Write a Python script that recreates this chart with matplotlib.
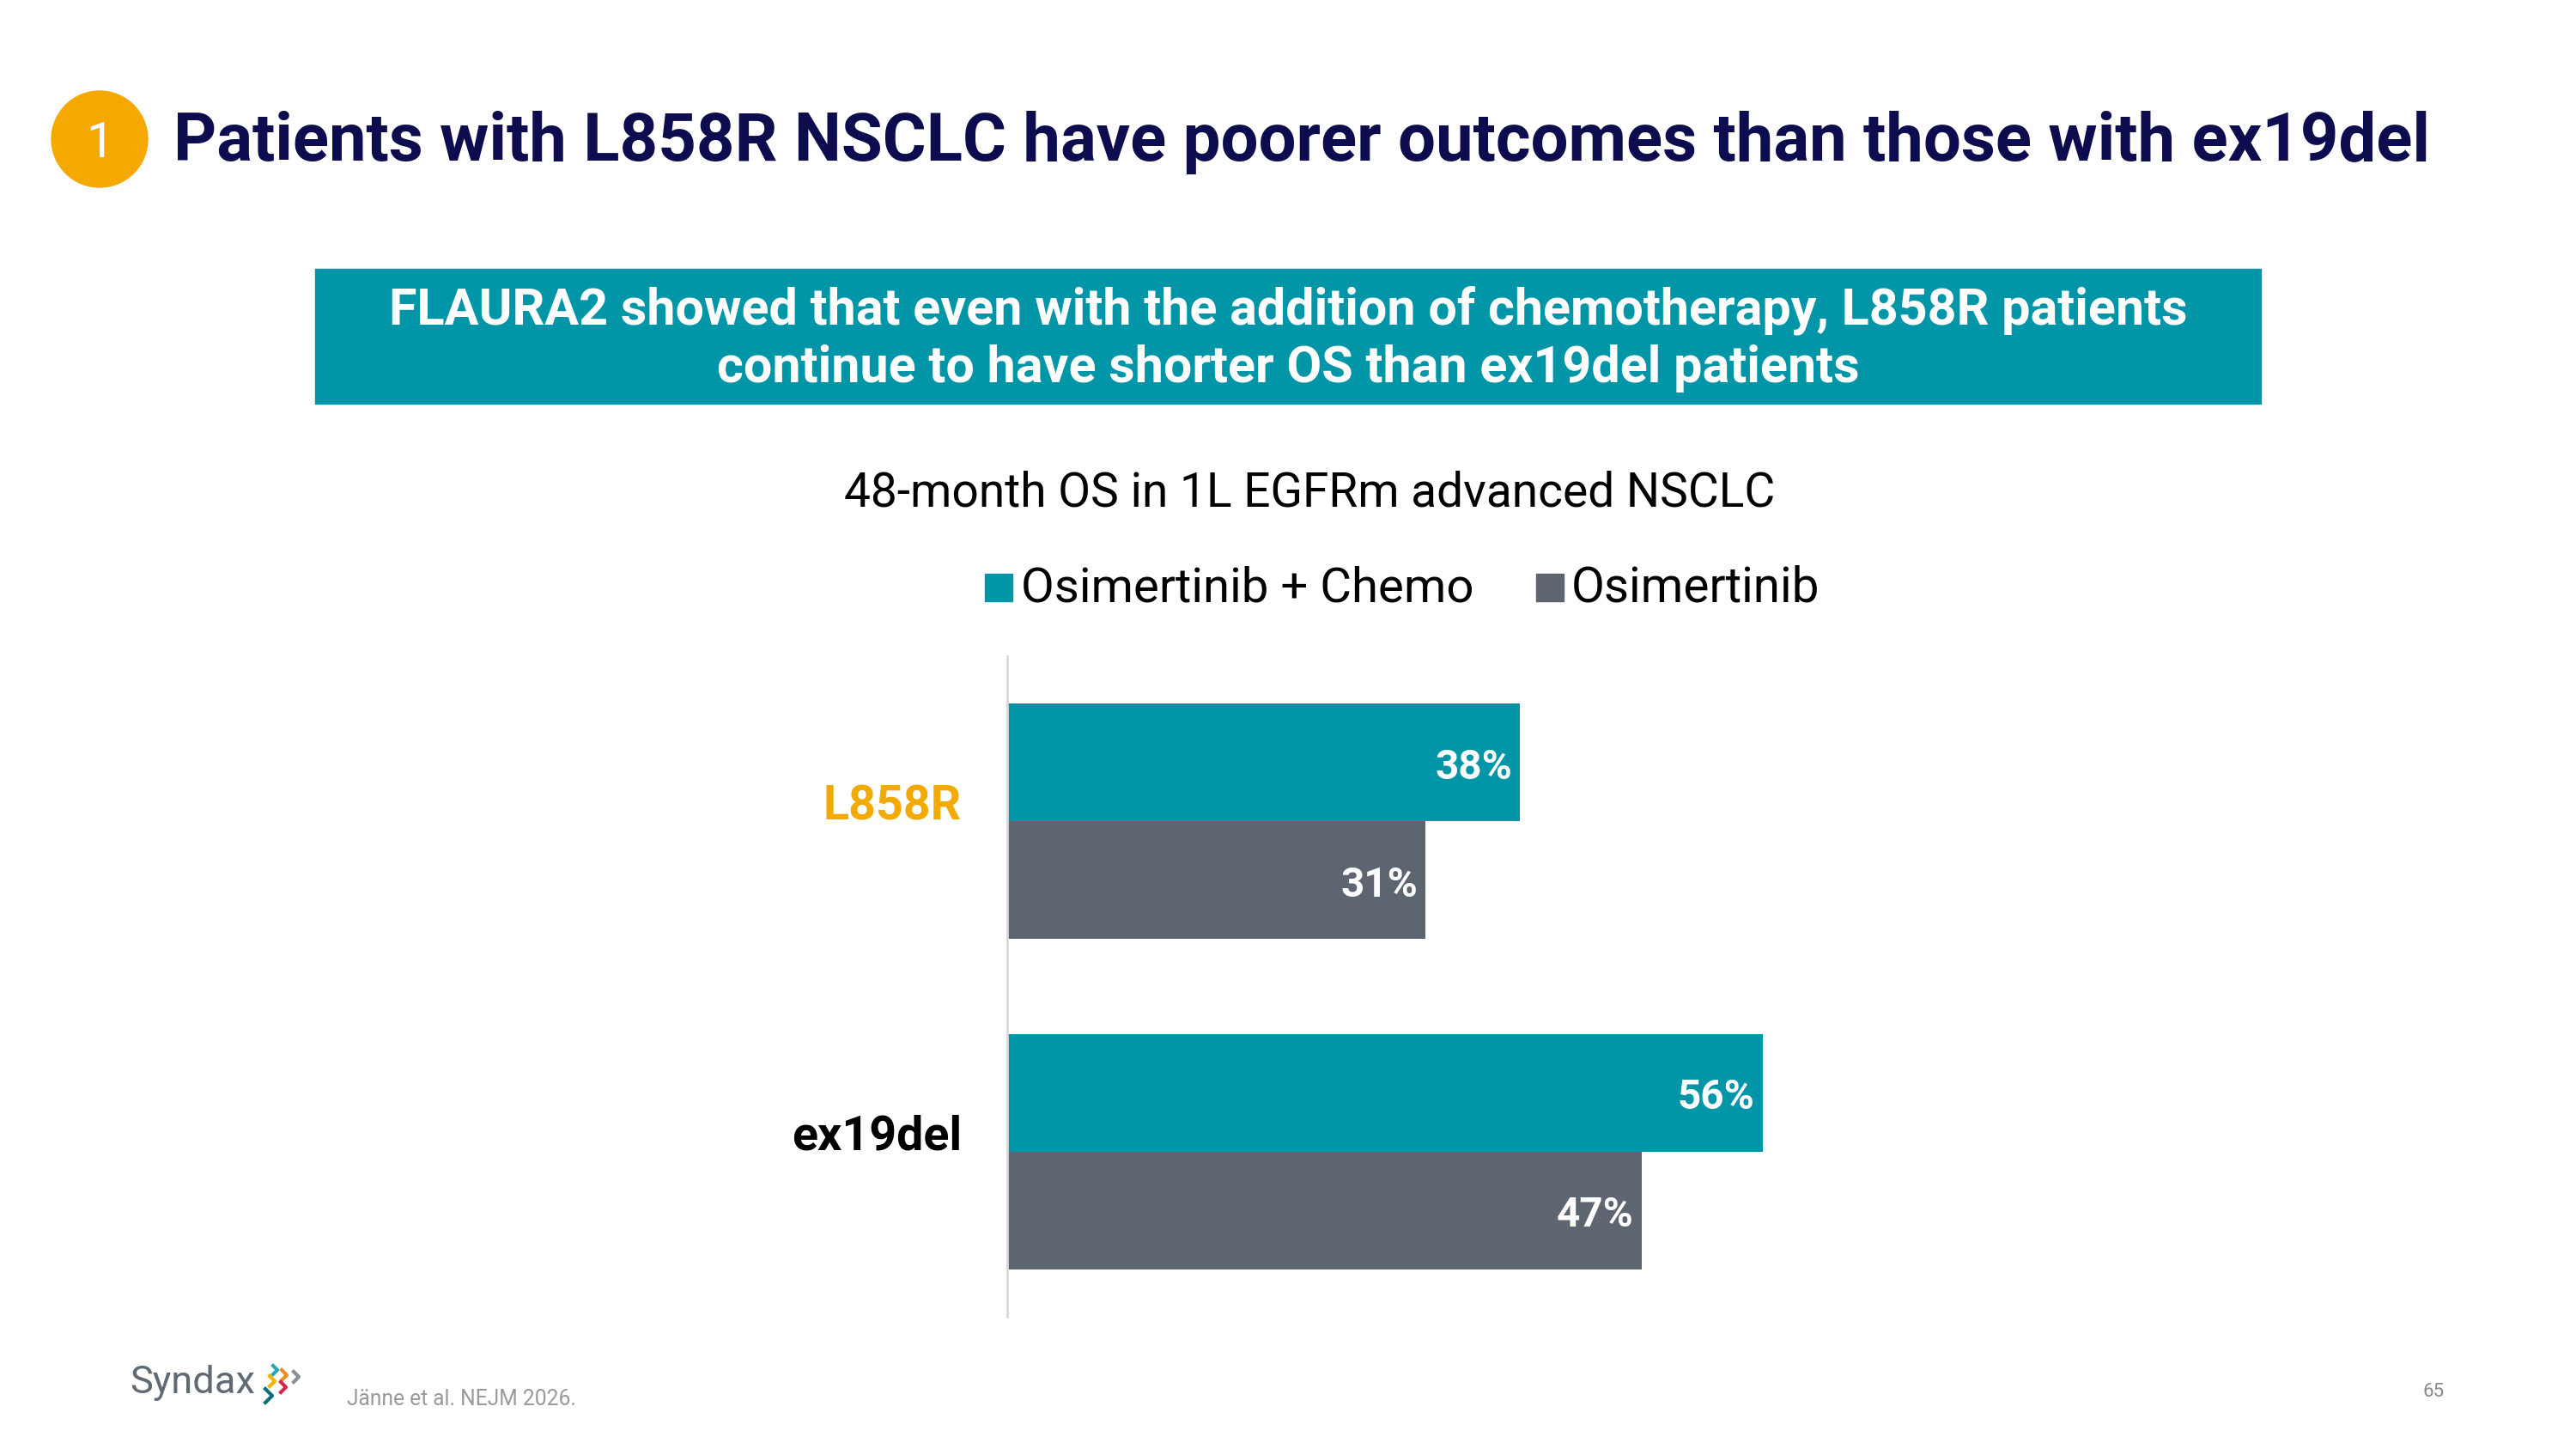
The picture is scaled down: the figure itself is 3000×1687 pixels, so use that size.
import numpy as np
import matplotlib.pyplot as plt
from matplotlib.patches import Circle, Rectangle
from matplotlib.lines import Line2D

# données
categories = ['L858R', 'ex19del']
chemo = [38, 56]   # Osimertinib + Chemo
osim = [31, 47]    # Osimertinib
series_names = ['Osimertinib + Chemo', 'Osimertinib']

TEAL = '#0096a8'
GREY = '#5d6670'
ORANGE = '#f2a900'
NAVY = '#0c0c4e'

W, H = 3000, 1687
plt.rcParams['font.family'] = ['Roboto', 'DejaVu Sans']

fig = plt.figure(figsize=(W / 100, H / 100), dpi=100)
renderer = fig.canvas.get_renderer()


def fx(x):
    return x / W


def fy(y):
    return 1 - y / H


def fit(t, width):
    # ajuste la taille de police pour une largeur donnee en pixels
    w = t.get_window_extent(renderer).width
    t.set_fontsize(t.get_fontsize() * width / w)
    return t


# pastille + titre
badge = Circle((116 / 100, (H - 162) / 100), 0.56, transform=fig.dpi_scale_trans,
               color='#f5a800')
fig.patches.append(badge)
fig.text(fx(116), fy(183), '1', color='white', fontsize=41, ha='center', va='baseline')
t = fig.text(fx(202), fy(187), 'Patients with L858R NSCLC have poorer outcomes than those with ex19del',
             color=NAVY, fontsize=50, fontweight='bold', ha='left', va='baseline')
fit(t, 2628)

# encadre
fig.patches.append(Rectangle((fx(367), fy(470)), fx(2633) - fx(367), fy(313) - fy(470),
                             transform=fig.transFigure, color=TEAL))
t1 = fig.text(fx(1500), fy(377), 'FLAURA2 showed that even with the addition of chemotherapy, L858R patients',
              color='white', fontsize=40, fontweight='bold', ha='center', va='baseline')
fit(t1, 2095)
fig.text(fx(1500), fy(445), 'continue to have shorter OS than ex19del patients',
         color='white', fontsize=t1.get_fontsize(), fontweight='bold', ha='center', va='baseline')

# titre du graphique
t = fig.text(fx(1525), fy(590), '48-month OS in 1L EGFRm advanced NSCLC',
             color='black', fontsize=36, ha='center', va='baseline')
fit(t, 1085)

# legende
for xs, xt, col, name, wt in [(1147, 1189, TEAL, series_names[0], 528),
                              (1789, 1830, GREY, series_names[1], 290)]:
    fig.patches.append(Rectangle((fx(xs), fy(700)), 32 / W, 32 / H,
                                 transform=fig.transFigure, color=col))
    t = fig.text(fx(xt), fy(700), name, color='black', fontsize=36, ha='left', va='baseline')
    fit(t, wt)

# barres
ax_w = 943
ax_h = 1533 - 764
ax = fig.add_axes([fx(1173), fy(1533), ax_w / W, ax_h / H])
y = np.arange(len(categories))
h = 0.356
ax.barh(y - h / 2, chemo, height=h, color=TEAL)
ax.barh(y + h / 2, osim, height=h, color=GREY)
ax.set_xlim(0, 60)
ax.set_ylim(1.5, -0.5)
for s in ['top', 'right', 'bottom']:
    ax.spines[s].set_visible(False)
ax.spines['left'].set_color('#d9d9d9')
ax.spines['left'].set_linewidth(2)
ax.set_xticks([])
ax.set_yticks([])
px_unit = 2.0 / ax_h  # unite de donnees par pixel

# etiquettes des categories
cat_cols = [ORANGE, 'black']
cats = []
for i, c in enumerate(categories):
    tt = ax.text(-53 / ax_w, i - 2 * px_unit, c, transform=ax.get_yaxis_transform(),
                 color=cat_cols[i], fontweight='bold', fontsize=40, ha='right', va='baseline')
    cats.append(tt)
fit(cats[0], 161)
cats[1].set_fontsize(cats[0].get_fontsize())

# valeurs
vals = []
for i in range(len(categories)):
    for v, off in [(chemo[i], -h / 2), (osim[i], h / 2)]:
        tt = ax.text(v - 0.6, i + off + 19 * px_unit, str(v) + '%', color='white',
                     fontweight='bold', fontsize=32, ha='right', va='baseline')
        vals.append(tt)
fit(vals[0], 90)
for tt in vals[1:]:
    tt.set_fontsize(vals[0].get_fontsize())

# pied de page
t = fig.text(fx(151), fy(1622), 'Syndax', color='#5f6a74', fontsize=34, ha='left', va='baseline')
fit(t, 146)
chev = [(323, 1595, 5, '#2aa7b4'), (334, 1601, 6, '#f08a24'), (348, 1603, 6, '#8a8f95'),
        (320, 1608, 6, '#f5b400'), (333, 1615, 6, '#d6254b'), (317, 1625, 8, '#0d6f7a')]
for cx, cy, s, col in chev:
    fig.lines.append(Line2D([fx(cx - s), fx(cx), fx(cx - s)], [fy(cy - s), fy(cy), fy(cy + s)],
                            transform=fig.transFigure, color=col, linewidth=3))
t = fig.text(fx(404), fy(1636), 'Jänne et al. NEJM 2026.', color='#9a9a9a', fontsize=16,
             ha='left', va='baseline')
fit(t, 268)
fig.text(fx(2847), fy(1626), '65', color='#8a8a8a', fontsize=16, ha='right', va='baseline')

fig.savefig('out.png', dpi=100)
